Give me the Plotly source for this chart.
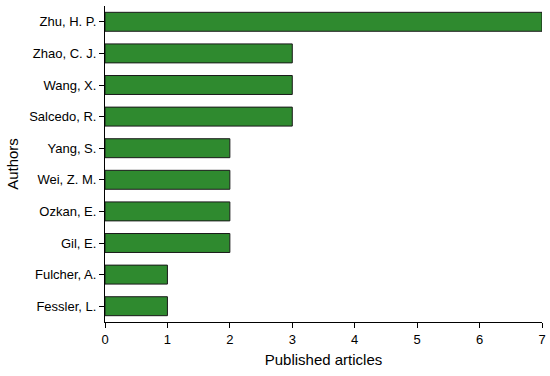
import plotly.graph_objects as go

authors = ["Fessler, L.", "Fulcher, A.", "Gil, E.", "Ozkan, E.", "Wei, Z. M.",
           "Yang, S.", "Salcedo, R.", "Wang, X.", "Zhao, C. J.", "Zhu, H. P."]
articles = [1, 1, 2, 2, 2, 2, 3, 3, 3, 7]

fig = go.Figure(go.Bar(
    x=articles, y=authors, orientation="h", width=0.6,
    marker=dict(color="#2f8a2f", line=dict(color="#1a1a1a", width=1)),
    cliponaxis=False,
))
fig.update_layout(
    width=550, height=376,
    margin=dict(l=105, r=8, t=6, b=54, autoexpand=False),
    plot_bgcolor="white", paper_bgcolor="white",
    font=dict(family="Liberation Sans, Arial, sans-serif", size=13, color="black"),
    showlegend=False,
)
fig.update_xaxes(
    range=[0, 7], dtick=1, showgrid=False, zeroline=False, automargin=False,
    showline=True, linecolor="black", linewidth=1,
    ticks="outside", ticklen=5, tickcolor="black",
    title=dict(text="Published articles", font=dict(size=15), standoff=8),
)
fig.update_yaxes(
    range=[-0.5, 9.5], showgrid=False, zeroline=False, automargin=False,
    showline=True, linecolor="black", linewidth=1,
    ticks="outside", ticklen=5, tickcolor="black",
    title=dict(text="Authors", font=dict(size=15), standoff=6),
)
# page body has a default 8px margin; drop it so the figure fills the window
fig.write_html("out.html", config={"displayModeBar": False},
               post_script="document.body.style.margin='0';")
